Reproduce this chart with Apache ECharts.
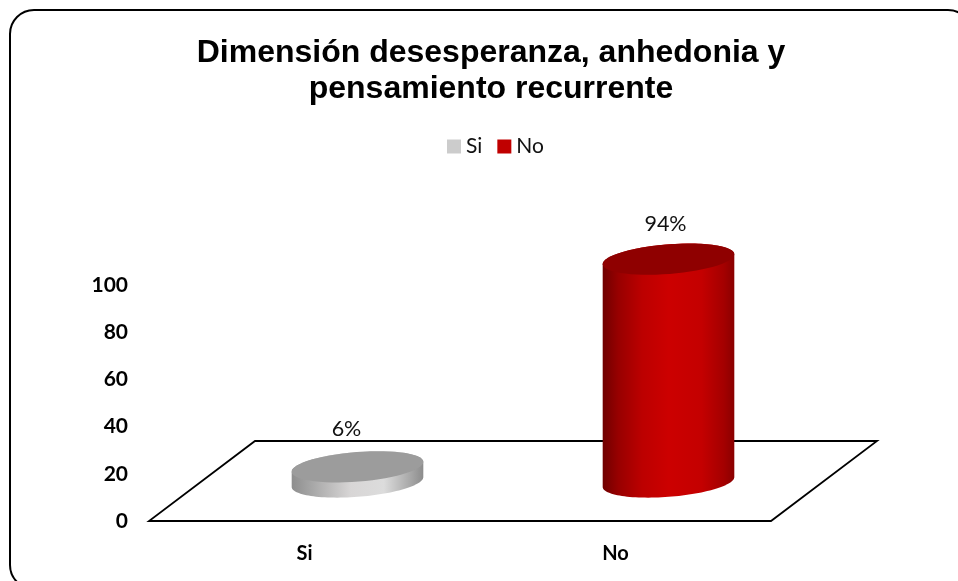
<!DOCTYPE html>
<html>
<head>
<meta charset="utf-8">
<style>html,body{margin:0;padding:0;background:#fff;overflow:hidden}#c{width:958px;height:581px}</style>
<script src="https://cdn.jsdelivr.net/npm/echarts@6/dist/echarts.min.js"></script>
</head>
<body>
<div id="c"></div>
<script>
const categories = ['Si', 'No'];
const siValues = [6];
const noValues = [94];
const yTicks = [0, 20, 40, 60, 80, 100];
const titleLines = ['Dimensión desesperanza, anhedonia y', 'pensamiento recurrente'];

const DEPTH_X = 106, DEPTH_Y = 80;
const A = 66, B = 14.8, TH = -4.5 * Math.PI / 180;

function ellipsePoint(cx, cy, t) {
  const c = Math.cos(t), s = Math.sin(t);
  return [cx + A * c * Math.cos(TH) - B * s * Math.sin(TH),
          cy + A * c * Math.sin(TH) + B * s * Math.cos(TH)];
}
function arc(cx, cy, from, to) {
  const pts = [], n = 60;
  for (let i = 0; i <= n; i++) pts.push(ellipsePoint(cx, cy, from + (to - from) * i / n));
  return pts;
}
const T0 = Math.atan2(-B * Math.sin(TH), A * Math.cos(TH));

function cylinder(catIndex, opts) {
  return function (params, api) {
    const base = api.coord([catIndex, 0]);
    const top = api.coord([catIndex, api.value(1)]);
    const cx = base[0] + DEPTH_X / 2, by = base[1] - DEPTH_Y / 2 + 1, ty = top[1] - DEPTH_Y / 2;
    const body = arc(cx, by, T0, T0 + Math.PI).concat(arc(cx, ty, T0 + Math.PI, T0 + 2 * Math.PI));
    return {
      type: 'group',
      children: [
        { type: 'polygon', shape: { points: body },
          style: { fill: { type: 'linear', x: 0, y: 0, x2: 1, y2: 0, colorStops: opts.stops } } },
        { type: 'polygon', shape: { points: arc(cx, ty, 0, 2 * Math.PI) }, style: { fill: opts.topColor } },
        { type: 'text', x: cx + opts.labelDx, y: ty + opts.labelDy,
          style: { text: api.value(1) + '%', fill: '#111', font: '21.5px Lato', textAlign: 'center', textVerticalAlign: 'middle' } }
      ]
    };
  };
}

const redStops = [
  { offset: 0, color: '#700000' }, { offset: 0.12, color: '#980000' }, { offset: 0.3, color: '#bc0000' },
  { offset: 0.5, color: '#cc0000' }, { offset: 0.75, color: '#c40000' }, { offset: 0.92, color: '#a40000' }, { offset: 1, color: '#8a0000' }
];
const grayStops = [
  { offset: 0, color: '#8e8e8e' }, { offset: 0.15, color: '#a6a6a6' }, { offset: 0.45, color: '#d8d6d6' },
  { offset: 0.7, color: '#dcdcdc' }, { offset: 0.9, color: '#a8a8a8' }, { offset: 1, color: '#8c8c8c' }
];

const chart = echarts.init(document.getElementById('c'), null, { renderer: 'canvas' });
chart.setOption({
  animation: false,
  backgroundColor: '#fff',
  title: {
    text: titleLines.join('\n'), left: 486, top: 30, textAlign: 'center',
    textStyle: { fontFamily: 'Liberation Sans', fontWeight: 'bold', fontSize: 32, lineHeight: 36, color: '#000' }
  },
  legend: {
    data: categories, left: 442, top: 131, itemWidth: 14, itemHeight: 14, itemGap: 15, icon: 'rect',
    textStyle: { fontFamily: 'Lato', fontSize: 21, color: '#111' }
  },
  grid: { left: 149, right: 187, top: 285, bottom: 60 },
  xAxis: {
    type: 'category', data: categories,
    axisLine: { show: false }, axisTick: { show: false },
    axisLabel: { fontFamily: 'Lato', fontWeight: 'bold', fontSize: 20, color: '#000', margin: 23 }
  },
  yAxis: {
    type: 'value', min: yTicks[0], max: yTicks[yTicks.length - 1], interval: yTicks[1] - yTicks[0],
    axisLine: { show: false }, axisTick: { show: false }, splitLine: { show: false },
    axisLabel: { fontFamily: 'Lato', fontWeight: 'bold', fontSize: 21, color: '#000', margin: 21, padding: [4, 0, 0, 0] }
  },
  series: [
    {
      type: 'custom', name: 'floor', silent: true, z: 1, data: [[0, 0]],
      renderItem: function (params, api) {
        const r = params.coordSys;
        const y0 = api.coord([0, 0])[1];
        const pts = [[r.x, y0], [r.x + r.width, y0], [r.x + r.width + DEPTH_X, y0 - DEPTH_Y], [r.x + DEPTH_X, y0 - DEPTH_Y]];
        return { type: 'polygon', shape: { points: pts }, style: { fill: 'none', stroke: '#000', lineWidth: 1.8 } };
      }
    },
    {
      type: 'custom', name: categories[0], z: 2, itemStyle: { color: '#cccccc' },
      data: siValues.map(v => [0, v]), encode: { x: 0, y: 1 },
      renderItem: cylinder(0, { stops: grayStops, topColor: '#9c9c9c', labelDx: -11, labelDy: -38 })
    },
    {
      type: 'custom', name: categories[1], z: 2, itemStyle: { color: '#c00000' },
      data: noValues.map(v => [1, v]), encode: { x: 0, y: 1 },
      renderItem: cylinder(1, { stops: redStops, topColor: '#8f0000', labelDx: -3, labelDy: -35 })
    }
  ],
  graphic: [{
    type: 'rect', z: 100, silent: true,
    shape: { x: 10, y: 10, width: 962, height: 579, r: 24 },
    style: { fill: 'none', stroke: '#000', lineWidth: 2 }
  }]
});
</script>
</body>
</html>
